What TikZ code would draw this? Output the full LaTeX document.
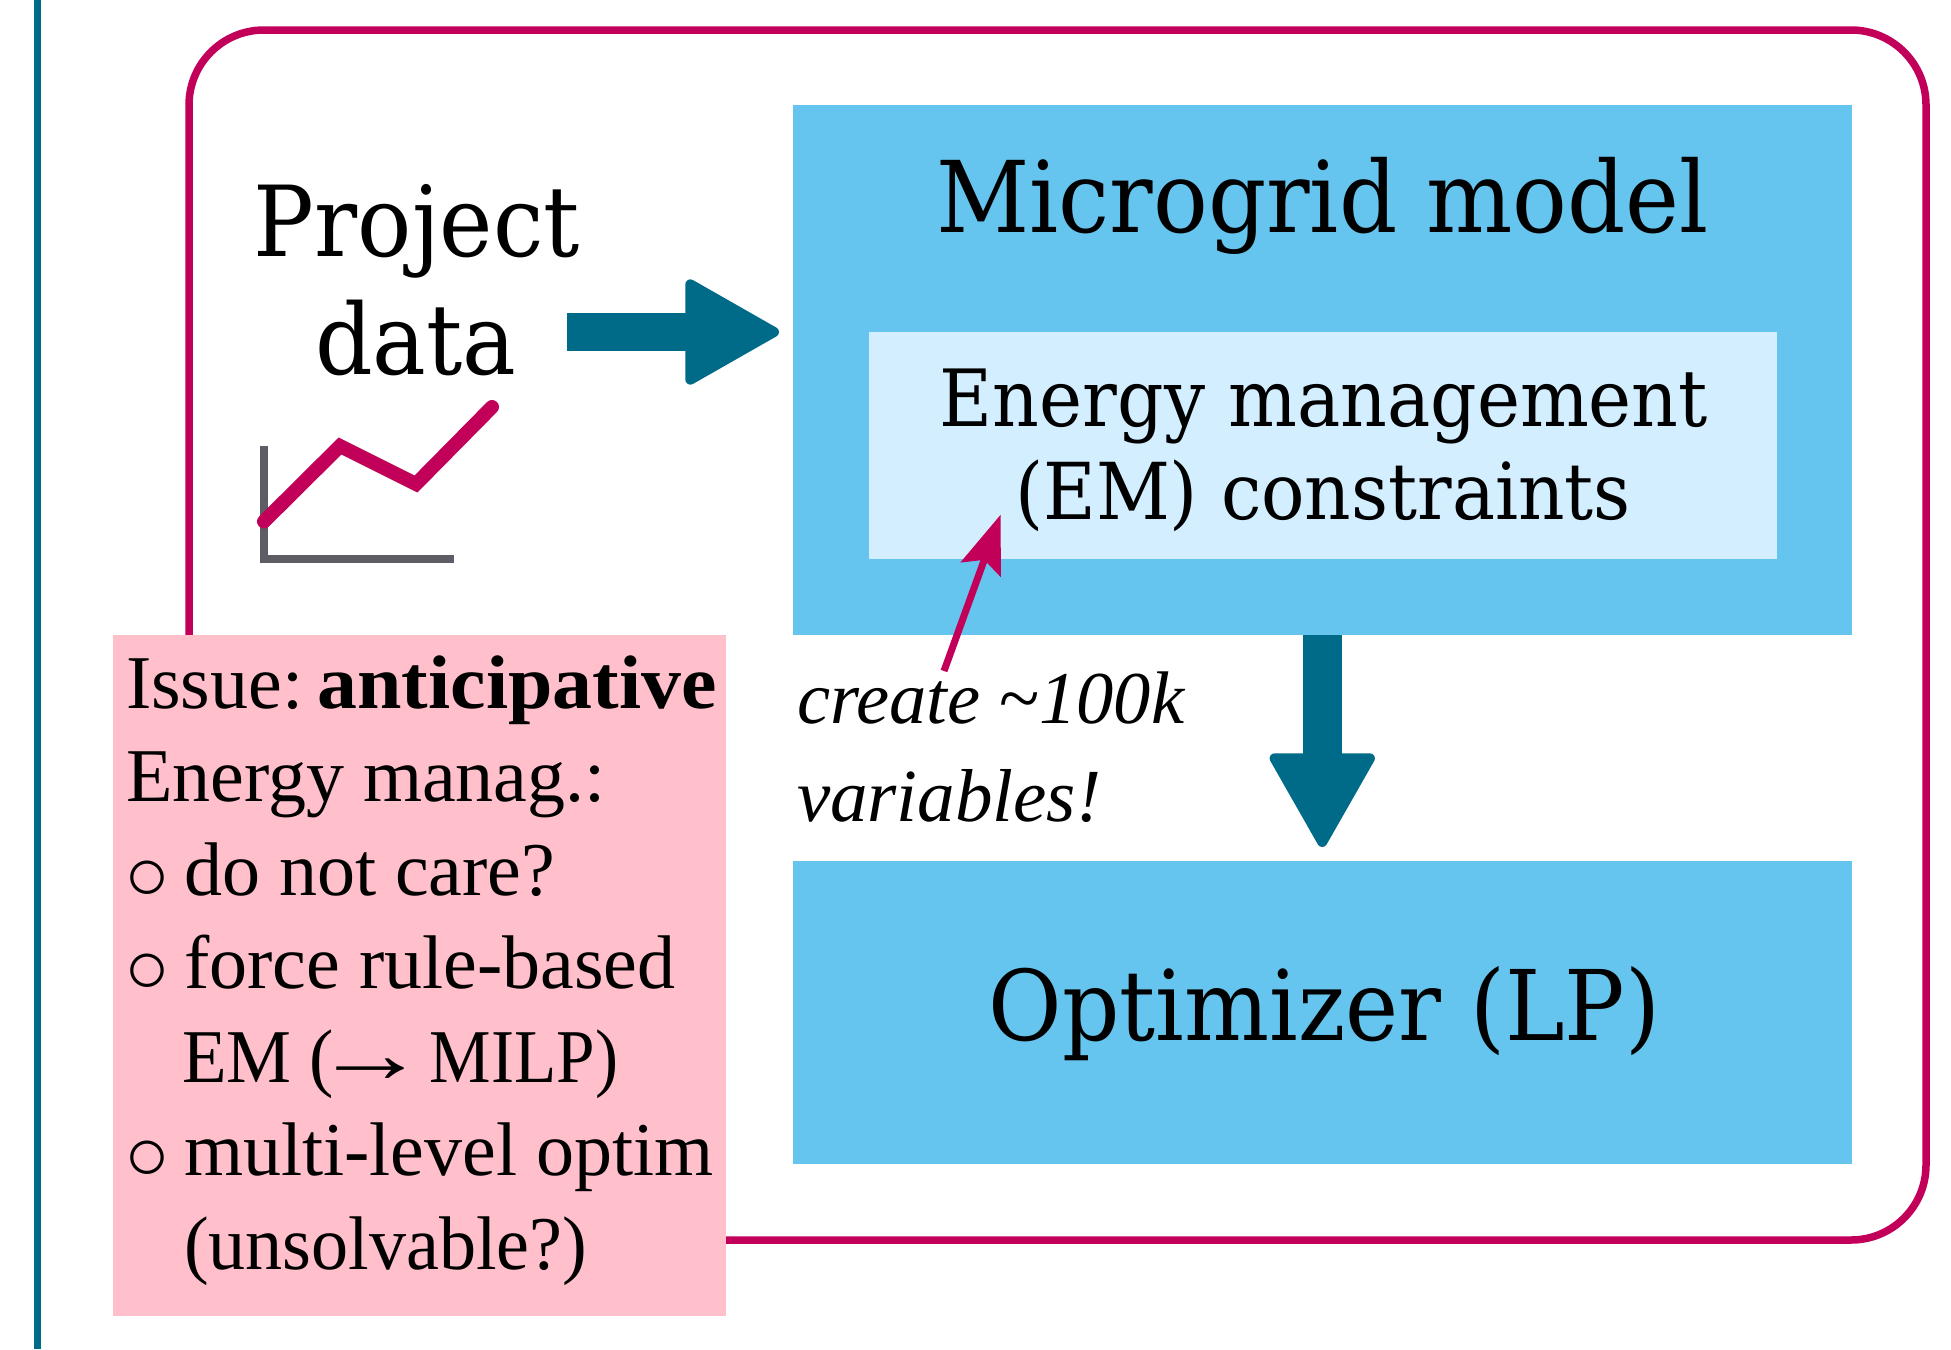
\documentclass[tikz,border=0pt]{standalone}
\usepackage{fontspec}
\usepackage{graphicx}
\setmainfont{Liberation Serif}
\newfontfamily\slab[FakeStretch=0.92]{DejaVu Serif}
\usetikzlibrary{arrows.meta}
\definecolor{teal}{HTML}{006A89}
\definecolor{crim}{HTML}{C2005A}
\definecolor{skyb}{HTML}{65C5EE}
\definecolor{pale}{HTML}{D3EEFF}
\definecolor{pinkb}{HTML}{FFC0CB}
\definecolor{axisg}{HTML}{5E5C64}
\newcommand{\fs}[1]{\fontsize{#1}{#1}\selectfont}
\tikzset{
  panel/.style={rectangle,inner sep=0pt,outer sep=0pt,fill=skyb},
  txt/.style={inner sep=0pt,outer sep=0pt,anchor=base,text=black},
  issuetxt/.style={txt,anchor=base west,font=\fs{76}},
  bigflow/.style={line width=38.5pt,draw=teal,-{Triangle[length=99pt,width=110pt,round,line width=10pt]}},
  notearrow/.style={line width=7pt,draw=crim,-{Stealth[length=58pt,width=42pt,inset=10pt]}}
}
\begin{document}
\begin{tikzpicture}[x=1pt,y=-1pt]
\useasboundingbox (0,0) rectangle (1951,1349);
\fill[white] (0,0) rectangle (1951,1349);
\coordinate (railtop) at (37.5,0);
\coordinate (railbot) at (37.5,1349);
\draw[teal,line width=7pt] (railtop) -- (railbot);
\node[rectangle,draw=crim,line width=7.5pt,rounded corners=75pt,minimum width=1737pt,minimum height=1210pt,inner sep=0pt] (frame) at (1057.5,635) {};
% chart
\coordinate (axtop) at (264,446);
\coordinate (axorg) at (264,559);
\coordinate (axend) at (453.5,559);
\draw[axisg,line width=7.5pt,miter limit=10] (axtop) -- (axorg) -- (axend);
\coordinate (c1) at (264,521.5);
\coordinate (c2) at (340,446);
\coordinate (c3) at (416,484);
\coordinate (c4) at (492,407);
\draw[crim,line width=14pt,line cap=round,line join=miter] (c1) -- (c2) -- (c3) -- (c4);
% panels
\node[panel,minimum width=1058.5pt,minimum height=530.5pt] (mg) at (1322.25,369.75) {};
\node[panel,fill=pale,minimum width=908pt,minimum height=227pt] (em) at (1323,445.5) {};
\node[panel,minimum width=1058.5pt,minimum height=302.5pt] (opt) at (1322.25,1012.25) {};
\node[rectangle,fill=pinkb,inner sep=0pt,outer sep=0pt,minimum width=613pt,minimum height=681pt] (issuebox) at (419.5,975.5) {};
% text
\node[txt,font=\slab\fs{98}] (project) at (417,256.5) {Project};
\node[txt,font=\slab\fs{98}] (data) at (416,374) {data};
\node[txt,font=\slab\fs{99}] (mgt) at (1322.5,232.5) {Microgrid model};
\node[txt,font=\slab\fs{79}] (emt1) at (1324,426) {Energy management};
\node[txt,font=\slab\fs{78.5}] (emt2) at (1323,519) {(EM) constraints};
\node[txt,font=\slab\fs{97.5}] (optt) at (1324.5,1040) {Optimizer (LP)};
\node[txt,anchor=base west,font=\fs{74.5}\itshape] (cr1) at (797,723) {create \char"007E 100k};
\node[txt,anchor=base west,font=\fs{75}\itshape] (cr2) at (797,821) {variables!};
\node[issuetxt] (i1) at (126,708) {Issue: \hspace{-11pt}\textbf{\scalebox{1.05}[1]{anticipative}}};
\node[issuetxt] (i2) at (126,801.5) {Energy manag.:};
\node[issuetxt] (i3) at (124,900) {○};
\node[issuetxt] (i3t) at (184,895) {do not care?};
\node[issuetxt] (i4) at (124,993.5) {○};
\node[issuetxt] (i4t) at (184,988.5) {force rule-based};
\node[issuetxt] (i5) at (182,1082) {\scalebox{.96}[1]{EM (}\hspace{-20pt}\scalebox{1.5}[1.1]{→}\hspace{2pt}\scalebox{.91}[1]{MILP)}};
\node[issuetxt] (i6) at (124,1180.5) {○};
\node[issuetxt] (i6t) at (184,1175.5) {multi-level optim};
\node[issuetxt] (i7) at (184,1269) {\scalebox{.975}[1]{(unsolvable?)}};
% connectors
\coordinate (flowstart) at (567,332);
\coordinate (flowend) at (mg.west |- flowstart);
\draw[bigflow,shorten >=14pt] (flowstart) -- (flowend);
\draw[bigflow,shorten >=14pt] (mg.south) -- (opt.north);
\coordinate (notefrom) at (944,671);
\coordinate (noteto) at (1000.6,514.7);
\draw[notearrow] (notefrom) -- (noteto);
\end{tikzpicture}
\end{document}
